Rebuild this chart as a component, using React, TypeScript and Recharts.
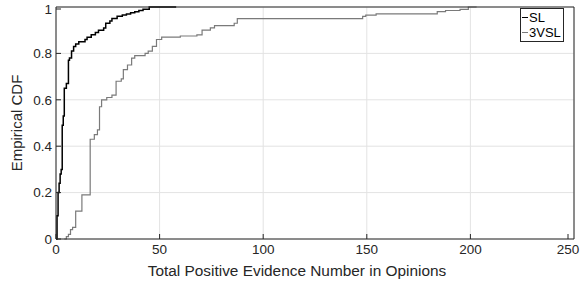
import React from 'react';
import { LineChart, Line, XAxis, YAxis, CartesianGrid, Legend } from 'recharts';

// CDF steps (x = evidence number, y = cumulative share)
const slX = [0, 0.5, 1, 1.5, 2, 2.5, 3, 3.5, 4, 5, 6, 6.5, 7.5, 8.5, 9.5, 11, 14, 15, 17, 19, 20.5, 23, 24, 26, 27, 29.5, 32, 34, 36, 38, 40, 42, 45, 58];
const slY = [0, 0.1, 0.2, 0.24, 0.28, 0.3, 0.49, 0.53, 0.65, 0.67, 0.77, 0.78, 0.81, 0.83, 0.84, 0.85, 0.86, 0.87, 0.88, 0.89, 0.9, 0.91, 0.93, 0.94, 0.95, 0.96, 0.965, 0.97, 0.975, 0.98, 0.985, 0.99, 1, 1];

const vslX = [4, 5, 6, 7, 8, 9.5, 12.5, 16.5, 18.5, 20, 21, 22, 24.5, 27, 29, 31.5, 32.5, 34.5, 36.5, 38, 43, 44.5, 46.5, 48.5, 51, 60, 68, 70.5, 74.5, 76.5, 86, 87.5, 148, 149.5, 154.5, 184, 188, 195, 199, 203];
const vslY = [0, 0.01, 0.02, 0.04, 0.05, 0.12, 0.19, 0.43, 0.45, 0.47, 0.57, 0.6, 0.61, 0.62, 0.68, 0.69, 0.73, 0.75, 0.78, 0.79, 0.8, 0.81, 0.83, 0.86, 0.87, 0.875, 0.88, 0.9, 0.91, 0.92, 0.93, 0.95, 0.96, 0.965, 0.97, 0.98, 0.985, 0.99, 1, 1];

const seriesNames = ['SL', '3VSL'];
const xTicks = [0, 50, 100, 150, 200, 250];
const yTicks = [0, 0.2, 0.4, 0.6, 0.8, 1];

const slData = slX.map((x, i) => ({ x, y: slY[i] }));
const vslData = vslX.map((x, i) => ({ x, y: vslY[i] }));

const FONT = '"Liberation Sans", Arial, sans-serif';
const AXIS = '#262626';
const TICK_LEN = 5;
const MARGIN = 4;

// ticks are drawn inward, like matlab does
const BottomTick = (props: any) => {
  const { x, y, payload } = props;
  const axisY = y - MARGIN;
  return (
    <g>
      <line x1={x} y1={axisY} x2={x} y2={axisY - TICK_LEN} stroke={AXIS} />
      <text x={x} y={y} dy="0.8em" textAnchor="middle" fill={AXIS} fontSize={13.5} fontFamily={FONT}>
        {payload.value}
      </text>
    </g>
  );
};

const TopTick = (props: any) => {
  const { x, y } = props;
  return <line x1={x} y1={y} x2={x} y2={y + TICK_LEN} stroke={AXIS} />;
};

const LeftTick = (props: any) => {
  const { x, y, payload } = props;
  const axisX = x + MARGIN;
  return (
    <g>
      <line x1={axisX} y1={y} x2={axisX + TICK_LEN} y2={y} stroke={AXIS} />
      <text x={x} y={y} dy="0.36em" textAnchor="end" fill={AXIS} fontSize={13.5} fontFamily={FONT}>
        {payload.value}
      </text>
    </g>
  );
};

const RightTick = (props: any) => {
  const { x, y } = props;
  return <line x1={x} y1={y} x2={x - TICK_LEN} y2={y} stroke={AXIS} />;
};

const LegendBox = (props: any) => {
  const items = [...(props.payload || [])].sort(
    (a: any, b: any) => seriesNames.indexOf(a.value) - seriesNames.indexOf(b.value)
  );
  return (
    <div
      style={{
        border: `1px solid ${AXIS}`,
        background: '#fff',
        padding: '1px 2px 1px 1px',
        fontFamily: FONT,
        fontSize: 13,
        color: '#000',
        lineHeight: '15px',
      }}
    >
      {items.map((it: any) => (
        <div key={it.value} style={{ display: 'flex', alignItems: 'center' }}>
          <span style={{ display: 'inline-block', width: 6, height: 1, background: it.color, marginRight: 1 }} />
          <span>{it.value}</span>
        </div>
      ))}
    </div>
  );
};

const App = () => {
  return (
    <div style={{ position: 'absolute', left: 0, top: 0, width: 580, height: 282, background: '#fff' }}>
      <LineChart width={580} height={282} margin={{ top: 0, right: 0, bottom: 0, left: 0 }}>
        <CartesianGrid xAxisId="b" yAxisId="l" stroke="#e3e3e3" strokeWidth={1} />
        <XAxis
          xAxisId="b"
          type="number"
          dataKey="x"
          domain={[0, 250]}
          ticks={xTicks}
          height={43}
          tickSize={0}
          tickMargin={MARGIN}
          tick={<BottomTick />}
          axisLine={{ stroke: AXIS }}
          tickLine={false}
          allowDataOverflow
          label={() => (
            <text x={297} y={276} textAnchor="middle" fill={AXIS} fontSize={15.4} fontFamily={FONT}>
              Total Positive Evidence Number in Opinions
            </text>
          )}
        />
        <XAxis
          xAxisId="t"
          orientation="top"
          type="number"
          domain={[0, 250]}
          ticks={xTicks}
          height={7}
          tickSize={0}
          tickMargin={0}
          tick={<TopTick />}
          axisLine={{ stroke: AXIS }}
          tickLine={false}
        />
        <YAxis
          yAxisId="l"
          type="number"
          domain={[0, 1]}
          ticks={yTicks}
          width={56}
          tickSize={0}
          tickMargin={MARGIN}
          tick={<LeftTick />}
          axisLine={{ stroke: AXIS }}
          tickLine={false}
          label={(p: any) => {
            const cy = p.viewBox.y + p.viewBox.height / 2;
            return (
              <text x={17} y={cy} transform={`rotate(-90, 17, ${cy})`} dy="0.36em" textAnchor="middle" fill={AXIS} fontSize={15} fontFamily={FONT}>
                Empirical CDF
              </text>
            );
          }}
        />
        <YAxis
          yAxisId="r"
          orientation="right"
          type="number"
          domain={[0, 1]}
          ticks={yTicks}
          width={6}
          tickSize={0}
          tickMargin={0}
          tick={<RightTick />}
          axisLine={{ stroke: AXIS }}
          tickLine={false}
        />
        <Legend
          layout="vertical"
          align="center"
          verticalAlign="middle"
          content={<LegendBox />}
          wrapperStyle={{ position: 'absolute', left: 520, top: 8, width: 'auto' }}
        />
        <Line
          xAxisId="b"
          yAxisId="l"
          data={slData}
          dataKey="y"
          name="SL"
          type="stepAfter"
          stroke="#000"
          strokeWidth={1.5}
          dot={false}
          isAnimationActive={false}
        />
        <Line
          xAxisId="b"
          yAxisId="l"
          data={vslData}
          dataKey="y"
          name="3VSL"
          type="stepAfter"
          stroke="#7a7a7a"
          strokeWidth={1.2}
          dot={false}
          isAnimationActive={false}
        />
      </LineChart>
    </div>
  );
};

export default App;
